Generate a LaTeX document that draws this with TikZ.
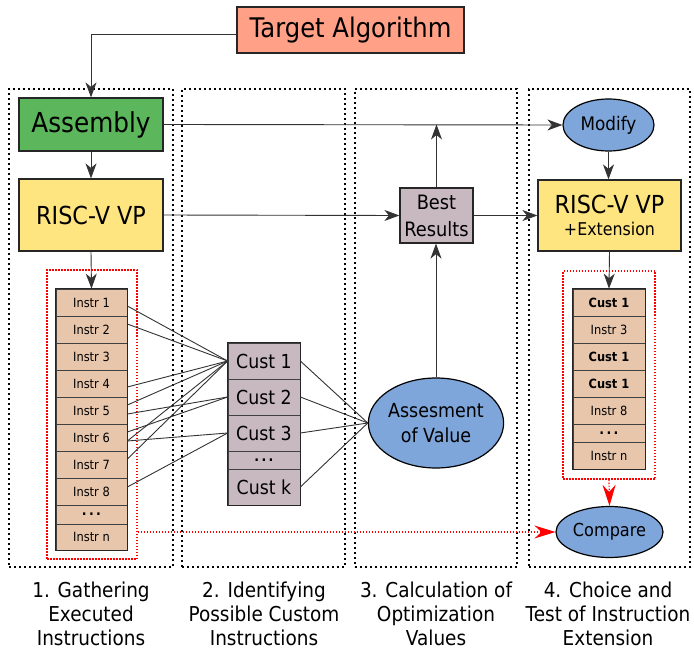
\documentclass[tikz,border=0pt]{standalone}
\usepackage{fontspec}
\setmainfont{DejaVu Sans}[FakeStretch=0.9]
\usetikzlibrary{arrows.meta,shapes.geometric}
\definecolor{salmon}{RGB}{255,160,135}
\definecolor{asmgreen}{RGB}{92,182,92}
\definecolor{vpyellow}{RGB}{255,229,128}
\definecolor{custfill}{RGB}{200,184,192}
\definecolor{instrfill}{RGB}{232,198,172}
\definecolor{ellblue}{RGB}{126,166,218}
\newcommand{\fs}[2]{\fontsize{#1}{#2}\selectfont}
\tikzset{
  colbox/.style={draw=black, line width=2pt, dash pattern=on 2pt off 3pt, inner sep=0},
  redbox/.style={draw=red, line width=1.2pt, dash pattern=on 1.5pt off 1.5pt, inner sep=0},
  box/.style={draw=black!85, line width=1.2pt, inner sep=0},
  ell/.style={ellipse, draw=black, line width=1.2pt, fill=ellblue, inner sep=0},
  conn/.style={draw=black!80, line width=0.9pt},
  arr/.style={conn, -{Stealth[length=15pt,width=11pt,inset=4.5pt]}},
  redarr/.style={draw=red, line width=1.2pt, dash pattern=on 1.5pt off 1.5pt, -{Stealth[length=21pt,width=13pt,inset=7pt,sep=0pt]}},
  irow/.style={draw=black!75, line width=0.7pt, fill=instrfill, minimum width=71pt, inner sep=0, font=\fs{12.7}{14}},
  jrow/.style={draw=black!75, line width=0.7pt, fill=instrfill, minimum width=72pt, inner sep=0, font=\fs{12.7}{14}},
  crow/.style={draw=black!75, line width=0.7pt, fill=custfill, minimum width=72pt, inner sep=0, font=\fs{19.3}{22}},
  tborder/.style={draw=black!85, line width=1.5pt},
  lbl/.style={align=center, font=\fs{20.5}{24}},
}
\begin{document}
\begin{tikzpicture}[x=1pt,y=-1pt]
\useasboundingbox (0,0) rectangle (694,650);
% columns
\node[colbox, minimum width=164pt, minimum height=478pt] (col1) at (91,328) {};
\node[colbox, minimum width=163pt, minimum height=478pt] (col2) at (263.5,328) {};
\node[colbox, minimum width=162pt, minimum height=478pt] (col3) at (436,328) {};
\node[colbox, minimum width=161pt, minimum height=478pt] (col4) at (609.5,328) {};
% main boxes
\node[box, fill=salmon, minimum width=227pt, minimum height=46pt, font=\fs{27}{30}] (T) at (350.5,30) {Target Algorithm};
\node[box, fill=asmgreen, minimum width=144pt, minimum height=53pt, font=\fs{27.5}{30}] (A) at (91,124.5) {Assembly};
\node[box, fill=vpyellow, minimum width=144pt, minimum height=72pt, font=\fs{24.8}{28}] (R) at (91,215) {RISC-V VP};
\node[box, fill=custfill, minimum width=73pt, minimum height=55pt, align=center, font=\fs{19.8}{27}] (B) at (436.5,215.5) {Best\\Results};
\node[box, fill=vpyellow, minimum width=143pt, minimum height=71pt, align=center, font=\fs{17.6}{22}] (RE) at (609.5,215.5) {{\fs{24.8}{28}RISC-V VP}\\+Extension};
\node[ell, minimum width=91pt, minimum height=52pt, font=\fs{18.7}{21}] (M) at (608.5,125) {Modify};
\node[ell, minimum width=126pt, minimum height=90pt, align=center, font=\fs{19.4}{25}] (S) at (436,423) {Assesment\\of Value};
\node[ell, minimum width=107pt, minimum height=51pt, font=\fs{17.9}{20}] (C) at (609.5,532) {Compare};
% red dotted boxes
\node[redbox, minimum width=90pt, minimum height=289pt] (redL) at (92,414.5) {};
\node[redbox, minimum width=92pt, minimum height=208pt] (redR) at (609,375) {};
% instruction table
\node[irow, minimum height=27pt] (i1) at (91.5,302.5) {Instr 1};
\node[irow, minimum height=27pt] (i2) at (91.5,329.5) {Instr 2};
\node[irow, minimum height=27pt] (i3) at (91.5,356.5) {Instr 3};
\node[irow, minimum height=27pt] (i4) at (91.5,383.5) {Instr 4};
\node[irow, minimum height=27pt] (i5) at (91.5,410.5) {Instr 5};
\node[irow, minimum height=27pt] (i6) at (91.5,437.5) {Instr 6};
\node[irow, minimum height=27pt] (i7) at (91.5,464.5) {Instr 7};
\node[irow, minimum height=27pt] (i8) at (91.5,491.5) {Instr 8};
\node[irow, minimum height=19pt, font=\fs{14}{16}] (id) at (91.5,514.5) {\textbf{.\,.\,.}};
\node[irow, minimum height=26pt] (in) at (91.5,537) {Instr n};
\draw[tborder] (i1.north west) rectangle (in.south east);
% custom table
\node[crow, minimum height=36pt] (c1) at (264,361) {Cust 1};
\node[crow, minimum height=36pt] (c2) at (264,397) {Cust 2};
\node[crow, minimum height=36pt] (c3) at (264,433) {Cust 3};
\node[crow, minimum height=18pt, font=\fs{14}{16}] (cd) at (264,460) {\textbf{.\,.\,.}};
\node[crow, minimum height=36pt] (ck) at (264,487) {Cust k};
\draw[tborder] (c1.north west) rectangle (ck.south east);
% right table
\node[jrow, minimum height=27pt] (j1) at (609,302.5) {\textbf{Cust 1}};
\node[jrow, minimum height=27pt] (j2) at (609,329.5) {Instr 3};
\node[jrow, minimum height=27pt] (j3) at (609,356.5) {\textbf{Cust 1}};
\node[jrow, minimum height=27pt] (j4) at (609,383.5) {\textbf{Cust 1}};
\node[jrow, minimum height=27pt] (j5) at (609,410.5) {Instr 8};
\node[jrow, minimum height=18pt, font=\fs{14}{16}] (jd) at (609,433) {\textbf{.\,.\,.}};
\node[jrow, minimum height=27pt] (jn) at (609,455.5) {Instr n};
\draw[tborder] (j1.north west) rectangle (jn.south east);
% instr -> cust lines
\draw[conn] ([yshift=-3.5pt]i1.east) -- (c1.west);
\draw[conn] ([yshift=5.5pt]i2.east) -- (c1.west);
\draw[conn] ([yshift=-3.5pt]i4.east) -- (c1.west);
\draw[conn] ([yshift=5.5pt]i5.east) -- (c1.west);
\draw[conn] ([yshift=-3.5pt]i5.east) -- (c2.west);
\draw[conn] ([yshift=5.5pt]i6.east) -- (c2.west);
\draw[conn] ([yshift=-3.5pt]i6.east) -- (c1.west);
\draw[conn] ([yshift=-3.5pt]i6.east) -- (c3.west);
\draw[conn] ([yshift=5.5pt]i7.east) -- (c1.west);
\draw[conn] ([yshift=4.5pt]i8.east) -- (c3.west);
% cust -> assessment
\draw[conn] (c1.east) -- (S.west);
\draw[conn] (c2.east) -- (S.west);
\draw[conn] (c3.east) -- (S.west);
\draw[conn] (ck.east) -- (S.west);
% arrows
\draw[arr] ([yshift=-4pt]T.west) -| (A.north);
\draw[arr] (A.south) -- (R.north);
\draw[arr] (R.south) -- (i1.north);
\draw[arr] (A.east) -- (M.west);
\draw[arr] (B.north) -- (B.north |- A.east);
\draw[arr] (R.east) -- (B.west);
\draw[arr] (B.east) -- (RE.west);
\draw[arr] (S.north) -- (S.north |- B.south);
\draw[arr] (M.south) -- (M.south |- RE.north);
\draw[arr] (RE.south) -- (j1.north);
\draw[redarr] (redR.south) -- (C.north);
\draw[redarr] (redL.east |- C.west) -- (C.west);
% labels
\node[lbl] (l1) at (91,614) {1. Gathering\\Executed\\Instructions};
\node[lbl] (l2) at (264,614) {2. Identifying\\Possible Custom\\Instructions};
\node[lbl] (l3) at (436,614) {3. Calculation of\\Optimization\\Values};
\node[lbl] (l4) at (608,614) {4. Choice and\\Test of Instruction\\Extension};
\end{tikzpicture}
\end{document}
